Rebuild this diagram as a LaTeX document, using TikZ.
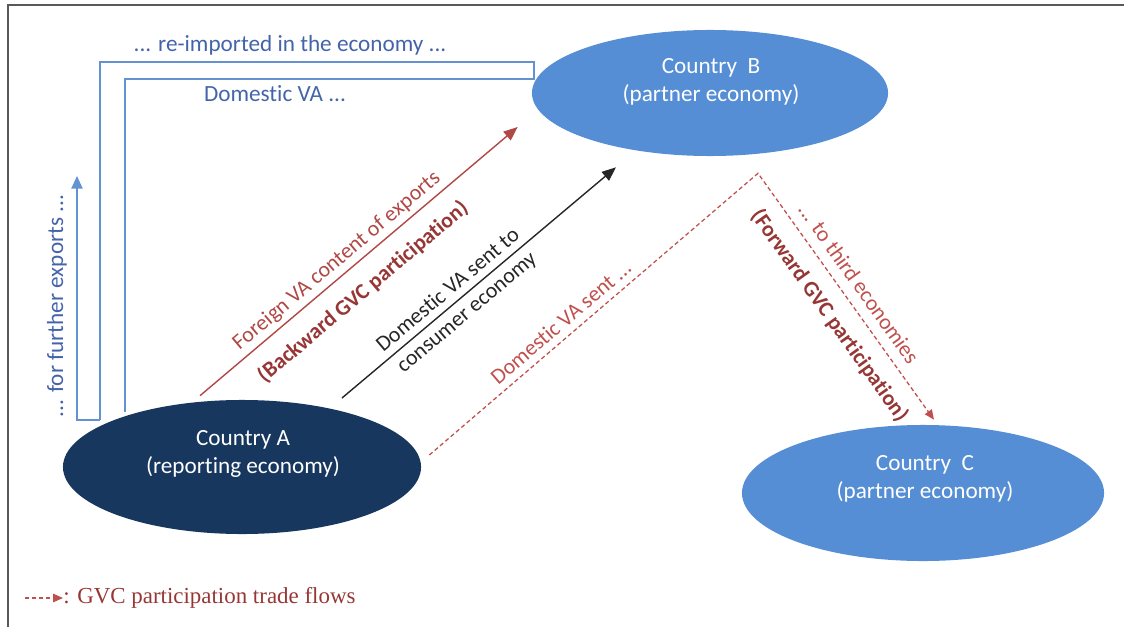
\documentclass[tikz,border=0pt]{standalone}
\usepackage{fontspec}
\setmainfont{Carlito}[Ligatures=NoCommon]
\newfontfamily\legendfont{Liberation Serif}
\usetikzlibrary{shapes.geometric, arrows.meta, calc}
\definecolor{navyA}{RGB}{23,55,94}
\definecolor{partnerblue}{RGB}{85,142,213}
\definecolor{lineblue}{RGB}{100,145,210}
\definecolor{textblue}{RGB}{68,100,170}
\definecolor{flowred}{RGB}{192,80,77}
\definecolor{backred}{RGB}{176,72,70}
\definecolor{darkred}{RGB}{150,55,53}

\begin{document}
\begin{tikzpicture}[x=0.025cm, y=0.025cm]
\tikzstyle{country} = [ellipse, minimum width=8.95cm, minimum height=3.35cm, inner sep=0pt, draw=none]
\tikzstyle{countrytext} = [align=center, text=white, font=\fontsize{16.5}{19.5}\selectfont]
\tikzstyle{flowlabel} = [sloped, inner sep=2pt, font=\fontsize{15.6}{19}\selectfont]
\tikzstyle{bluetext} = [text=textblue, font=\fontsize{16.5}{19.5}\selectfont]
\tikzstyle{arrow} = [line width=1pt, -{Triangle[length=10pt,width=8pt]}]
\tikzstyle{gvcflow} = [flowred, line width=0.9pt, dash pattern=on 3pt off 2pt, -{Triangle[length=7pt,width=6pt]}]
\tikzstyle{reimport} = [lineblue, line width=1.1pt]

\useasboundingbox (0,0) rectangle (1124,627);

% Frame
\draw[gray!70!black, line width=1.4pt] (8,0) -- (8,622) -- (1124,622);

% Country Nodes
\node (A) [country, fill=navyA] at (242,160) {};
\node (B) [country, fill=partnerblue, minimum width=8.9cm, minimum height=3.15cm] at (710,534) {};
\node (C) [country, fill=partnerblue, minimum width=9.05cm, minimum height=3.4cm] at (923,134) {};

\node (Atext) [countrytext] at ($(A.center)+(1,13)$) {Country A\\(reporting economy)};
\node (Btext) [countrytext] at ($(B.center)+(1,11)$) {Country~~B\\(partner economy)};
\node (Ctext) [countrytext] at ($(C.center)+(2,14)$) {Country~~C\\(partner economy)};

% Re-imported Domestic VA
\coordinate (reA) at ($(A.center)+(-142,47)$);
\draw[reimport] (reA) -- ++(0,358) -- ++(434,0) -- ++(0,-17) -- ++(-409,0) -- ++(0,-333);
\draw[reimport, -{Triangle[length=9pt,width=8pt]}] (reA) -- ++(-23,0) -- ++(0,244);
\node (reimp) [bluetext] at (290,582) {... re-imported in the economy ...};
\node (domva) [bluetext] at (275,533) {Domestic VA ...};
\node (further) [bluetext, rotate=90] at (57,321) {... for further exports ...};

% Backward GVC Participation
\draw[arrow, backred] ($(A.north)+(-42,4)$) --
  node[flowlabel, pos=0.46, above=1pt, text=backred] {Foreign VA content of exports}
  node[flowlabel, pos=0.46, below=9pt, text=darkred, font=\fontsize{15.6}{19}\selectfont\bfseries] {(Backward GVC participation)}
  ($(B.west)+(-14,-34)$);

% Domestic VA to Consumer
\draw[arrow, black!85] ($(A.center)+(100,69)$) --
  node[flowlabel, pos=0.42, above=3pt, text=black!85] {Domestic VA sent to}
  node[flowlabel, pos=0.42, below=5pt, text=black!85] {consumer economy}
  ($(B.south)+(-94,-11)$);

% Forward GVC Participation
\draw[gvcflow] ($(A.east)+(8,12)$) --
  node[flowlabel, pos=0.43, above=3pt, text=flowred] {Domestic VA sent ...}
  ($(B.south)+(48,-17)$) coordinate (Bvertex) --
  node[flowlabel, pos=0.49, above=5pt, text=flowred] {... to third economies}
  node[flowlabel, pos=0.52, below=8pt, text=darkred, font=\fontsize{15.6}{19}\selectfont\bfseries] {(Forward GVC participation)}
  ($(C.north)+(11,5)$);

% Legend
\coordinate (legstart) at (25,29);
\coordinate (legtip) at (63,29);
\draw[gvcflow] (legstart) -- (legtip);
\node (legend) [anchor=west, inner sep=0pt, text=darkred, font=\legendfont\fontsize{16.3}{19}\selectfont] at (legtip) {: GVC participation trade flows};

\end{tikzpicture}
\end{document}
